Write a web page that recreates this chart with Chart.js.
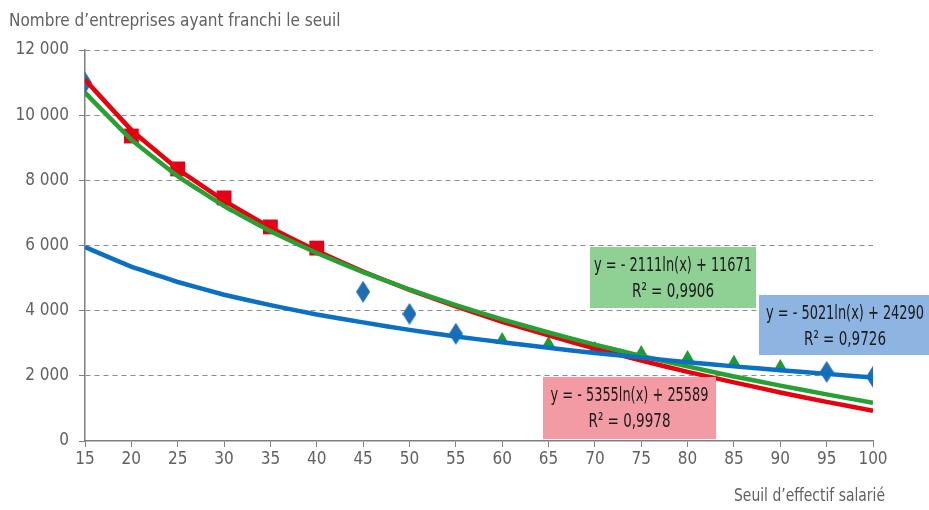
<!DOCTYPE html>
<html><head><meta charset="utf-8">
<script src="https://cdn.jsdelivr.net/npm/chart.js@4/dist/chart.umd.min.js"></script>
<style>html,body{margin:0;padding:0;background:#fff}#wrap{width:929px;height:510px;position:relative}</style>
</head><body><div id="wrap"><canvas id="c" width="929" height="510"></canvas></div>
<script>
// ---- data ----
const thresholds = [15,20,25,30,35,40,45,50,55,60,65,70,75,80,85,90,95,100];
const blueX = [15,45,50,55,95,100];
const blueY = [11000,4580,3900,3290,2120,1970];
const redX = [20,25,30,35,40];
const redY = [9360,8350,7460,6570,5920];
const greenX = [60,65,70,75,80,85,90];
const greenY = [3100,2980,2820,2700,2550,2400,2270];
const redTrend   = [11090,9550,8350,7380,6550,5840,5200,4640,4130,3660,3240,2840,2470,2120,1800,1490,1200,930];
const greenTrend = [10690,9250,8130,7210,6440,5770,5180,4650,4170,3730,3330,2960,2610,2290,1980,1700,1430,1170];
const blueTrend  = [5950,5350,4880,4490,4170,3880,3640,3410,3210,3030,2860,2700,2560,2420,2290,2170,2060,1950];
const yTicks = [0,2000,4000,6000,8000,10000,12000];
const yTitle = "Nombre d\u2019entreprises ayant franchi le seuil";
const xTitle = "Seuil d\u2019effectif salari\u00e9";
const labels = [
  {lines:["y = - 2111ln(x) + 11671","R\u00b2 = 0,9906"], bg:"#8fd095"},
  {lines:["y = - 5021ln(x) + 24290","R\u00b2 = 0,9726"], bg:"#8eb4e2"},
  {lines:["y = - 5355ln(x) + 25589","R\u00b2 = 0,9978"], bg:"#f39ba5"}
];
// ---- styling ----
const FONT = "'Liberation Sans Narrow','DejaVu Sans Condensed','Open Sans',sans-serif";
const TXT = "#616161";
const pts = (xs, ys) => xs.map((x,i)=>({x:x, y:ys[i]}));
function diamond(w,h,color){
  const c=document.createElement('canvas'); c.width=w; c.height=h;
  const g=c.getContext('2d'); g.fillStyle=color; g.beginPath();
  g.moveTo(w/2,0); g.lineTo(w,h/2); g.lineTo(w/2,h); g.lineTo(0,h/2); g.closePath(); g.fill();
  return c;
}
const dia = diamond(14,22,'#1f6db4');
const boxes = [
  {x:590,y:247,w:166,h:61},
  {x:759,y:295,w:172,h:60},
  {x:543,y:377,w:173,h:62}
];
const lineW = [158, 82];
function fitText(ctx, s, cx, cy, targetW){
  const w = ctx.measureText(s).width;
  const k = Math.min(1, targetW / w);
  ctx.save(); ctx.translate(cx, cy); ctx.scale(k, 1);
  ctx.fillText(s, 0, 0); ctx.restore();
}
const overlay = {
  id:'overlay',
  afterDraw(chart){
    const ctx=chart.ctx; ctx.save();
    ctx.fillStyle=TXT; ctx.font="17px "+FONT; ctx.textBaseline='middle';
    ctx.textAlign='left'; ctx.fillText(yTitle, 9, 22);
    ctx.textAlign='right';
    fitText(ctx, xTitle, 885, 497, 151);
    labels.forEach((L,i)=>{
      const b=boxes[i];
      ctx.fillStyle=L.bg; ctx.fillRect(b.x,b.y,b.w,b.h);
      ctx.fillStyle="#1a1a1a"; ctx.font="20px "+FONT; ctx.textAlign='center';
      fitText(ctx, L.lines[0], b.x+b.w/2, b.y+19, lineW[0]);
      fitText(ctx, L.lines[1], b.x+b.w/2, b.y+45, lineW[1]);
    });
    ctx.restore();
  }
};
new Chart(document.getElementById('c'), {
  type:'scatter',
  data:{datasets:[
    {data:pts(thresholds,blueTrend), showLine:true, borderColor:'#0a70c4', borderWidth:4.5, pointRadius:0, tension:0.1, order:0},
    {data:pts(thresholds,greenTrend), showLine:true, borderColor:'#27a134', borderWidth:4.5, pointRadius:0, tension:0.1, order:1},
    {data:pts(thresholds,redTrend), showLine:true, borderColor:'#e8000e', borderWidth:4.5, pointRadius:0, tension:0.1, order:2},
    {data:pts(blueX,blueY), pointStyle:dia, pointRadius:7, order:3},
    {data:pts(redX,redY), pointStyle:'rect', pointRadius:10.5, backgroundColor:'#e2001a', borderWidth:0, order:3},
    {data:pts(greenX,greenY), pointStyle:'triangle', pointRadius:8, backgroundColor:'#1f9a33', borderWidth:0, order:3}
  ]},
  options:{
    responsive:false, animation:false, devicePixelRatio:1,
    layout:{padding:{left:0,right:56,top:50,bottom:0}},
    plugins:{legend:{display:false}, tooltip:{enabled:false}},
    scales:{
      x:{type:'linear', min:15, max:100,
        afterFit(a){a.height=69;},
        ticks:{stepSize:5, color:TXT, font:{family:FONT,size:17}, padding:2, maxRotation:0},
        grid:{drawOnChartArea:false, drawTicks:true, tickLength:6, color:'#7f7f7f', lineWidth:1},
        border:{color:'#7f7f7f', width:1.5}
      },
      y:{min:0, max:12000,
        afterFit(a){a.width=85;},
        afterBuildTicks(a){a.ticks=yTicks.map(v=>({value:v}));},
        ticks:{color:TXT, font:{family:FONT,size:17}, padding:10,
          callback:v=>v===0?'0':String(v).replace(/\B(?=(\d{3})+(?!\d))/g,' ')},
        grid:{color:(c)=>c.tick && c.tick.value===0?'rgba(0,0,0,0)':'#8c8c8c', lineWidth:1, tickLength:6, tickColor:'#7f7f7f'},
        border:{color:'#7f7f7f', width:1.5, dash:[5,4]}
      }
    }
  },
  plugins:[overlay]
});
</script></body></html>
